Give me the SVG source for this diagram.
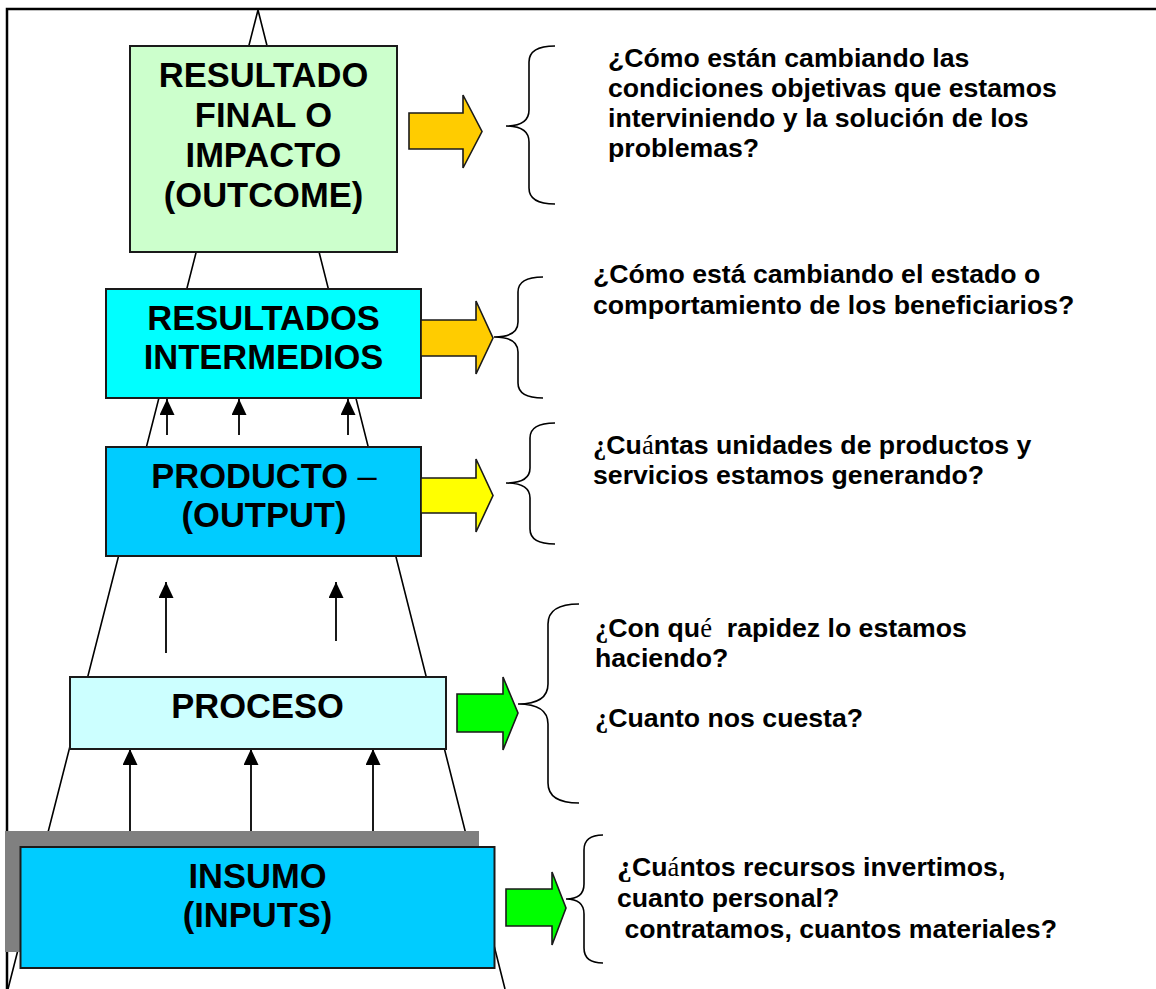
<svg xmlns="http://www.w3.org/2000/svg" width="1156" height="989" viewBox="0 0 1156 989">
<defs>
<style>
.frame{fill:none;stroke:#000;stroke-width:2.5}
.edge{fill:none;stroke:#000;stroke-width:1.6}
.box{stroke:#1a1a1a;stroke-width:2}
.btxt{font-family:"Liberation Sans",Arial,sans-serif;font-weight:bold;font-size:34.5px;fill:#000;text-anchor:middle}
.qtxt{font-family:"Liberation Sans",Arial,sans-serif;font-weight:bold;font-size:26.67px;fill:#000}
.ser{font-family:"Liberation Serif","Times New Roman",serif}
.blk{stroke:#1a1a1a;stroke-width:1.6}
.brace{fill:none;stroke:#000;stroke-width:1.6}
.conn{fill:none;stroke:#000;stroke-width:1.8;marker-end:url(#ah)}
</style>
<marker id="ah" markerUnits="userSpaceOnUse" markerWidth="16" markerHeight="16" refX="16" refY="7.5" orient="auto">
<path d="M0,0 L16,7.5 L0,15 z" fill="#000"/>
</marker>
</defs>
<rect x="0" y="0" width="1156" height="989" fill="#fff"/>
<g id="frame">
<path class="frame" d="M7,989 V9 H1156"/>
<path class="edge" d="M258,10 L8,989 M258,10 L505,989"/>
</g>
<g id="connectors">
<path class="conn" d="M167,435 V399"/>
<path class="conn" d="M239,435 V399"/>
<path class="conn" d="M348,435 V399"/>
<path class="conn" d="M166,653 V582"/>
<path class="conn" d="M336,641 V582"/>
<path class="conn" d="M130,831 V749"/>
<path class="conn" d="M251,831 V749"/>
<path class="conn" d="M373,836 V749"/>
</g>
<g id="resultado-final">
<rect class="box" x="130" y="46" width="267" height="206" fill="#CCFFCC"/>
<text class="btxt" x="263.5" y="87">RESULTADO</text>
<text class="btxt" x="263.5" y="127">FINAL O</text>
<text class="btxt" x="263.5" y="167">IMPACTO</text>
<text class="btxt" x="263.5" y="207">(OUTCOME)</text>
</g>
<g id="resultados-intermedios">
<rect class="box" x="106" y="289" width="315" height="109" fill="#00FFFF"/>
<text class="btxt" x="263.5" y="330">RESULTADOS</text>
<text class="btxt" x="263.5" y="369">INTERMEDIOS</text>
</g>
<g id="producto">
<rect class="box" x="106" y="447" width="315" height="109" fill="#00CCFF"/>
<text class="btxt" x="264" y="488">PRODUCTO <tspan font-weight="normal">–</tspan></text>
<text class="btxt" x="264" y="527">(OUTPUT)</text>
</g>
<g id="proceso">
<rect class="box" x="70" y="677" width="376" height="72" fill="#CCFFFF"/>
<text class="btxt" x="257.5" y="718">PROCESO</text>
</g>
<g id="insumo">
<rect x="5" y="831" width="474" height="121" fill="#808080"/>
<rect class="box" x="20.5" y="847" width="474" height="121" fill="#00CCFF"/>
<text class="btxt" x="257.5" y="888">INSUMO</text>
<text class="btxt" x="257.5" y="927">(INPUTS)</text>
</g>
<g id="arrow-1">
<polygon class="blk" fill="#FFCC00" points="409,113 463,113 463,95 482,131.5 463,168 463,149 409,149"/>
</g>
<g id="arrow-2">
<polygon class="blk" fill="#FFCC00" points="421,320 476,320 476,301 493,338 476,374 476,356 421,356"/>
</g>
<g id="arrow-3">
<polygon class="blk" fill="#FFFF00" points="421,478 476,478 476,459 493,495.5 476,532 476,513 421,513"/>
</g>
<g id="arrow-4">
<polygon class="blk" fill="#00FF00" points="457,694 503,694 503,677 518,713 503,750 503,732 457,732"/>
</g>
<g id="arrow-5">
<polygon class="blk" fill="#00FF00" points="506,889 552,889 552,872 566,908 552,945 552,926 506,926"/>
</g>
<g id="question-1">
<path class="brace" d="M555,46 Q529,46 529,62 V110 Q529,126 506,126 Q529,126 529,142 V188 Q529,204 555,204"/>
<text class="qtxt" x="608" y="67">¿Cómo están cambiando las</text>
<text class="qtxt" x="608" y="97">condiciones objetivas que estamos</text>
<text class="qtxt" x="608" y="127">interviniendo y la solución de los</text>
<text class="qtxt" x="608" y="157">problemas?</text>
</g>
<g id="question-2">
<path class="brace" d="M543,277 Q518,277 518,292 V322 Q518,337 494,337 Q518,337 518,352 V383 Q518,398 543,398"/>
<text class="qtxt" x="593" y="283">¿Cómo está cambiando el estado o</text>
<text class="qtxt" x="593" y="314">comportamiento de los beneficiarios?</text>
</g>
<g id="question-3">
<path class="brace" d="M555,423 Q530,423 530,438 V468 Q530,483 506,483 Q530,483 530,498 V529 Q530,544 555,544"/>
<text class="qtxt" x="593" y="454"><tspan class="ser">¿</tspan>Cu<tspan class="ser" font-weight="normal">á</tspan>ntas unidades de productos y</text>
<text class="qtxt" x="593" y="484">servicios estamos generando?</text>
</g>
<g id="question-4">
<path class="brace" d="M579,604 Q548,604 548,624 V684 Q548,704 518,704 Q548,704 548,724 V783 Q548,803 579,803"/>
<text class="qtxt" x="595" y="637" xml:space="preserve"><tspan class="ser">¿</tspan>Con qu<tspan class="ser" font-weight="normal">é</tspan>  rapidez lo estamos</text>
<text class="qtxt" x="595" y="667">haciendo?</text>
<text class="qtxt" x="595" y="727"><tspan class="ser">¿</tspan>Cuanto nos cuesta?</text>
</g>
<g id="question-5">
<path class="brace" d="M603,835 Q584,835 584,850 V884 Q584,899 566,899 Q584,899 584,914 V948 Q584,963 603,963"/>
<text class="qtxt" x="617" y="876"><tspan class="ser" font-size="30">¿</tspan>Cu<tspan class="ser" font-weight="normal">á</tspan>ntos recursos invertimos,</text>
<text class="qtxt" x="617" y="907">cuanto personal?</text>
<text class="qtxt" x="617" y="938" xml:space="preserve"> contratamos, cuantos materiales?</text>
</g>
</svg>
